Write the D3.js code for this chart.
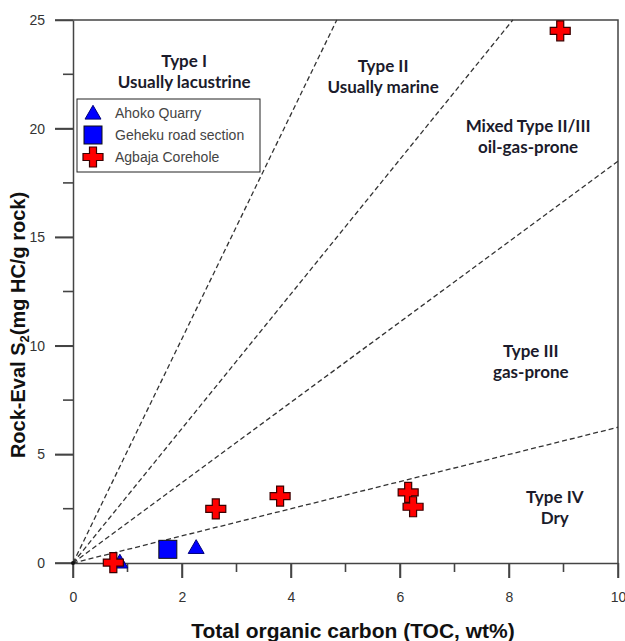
<!DOCTYPE html>
<html>
<head>
<meta charset="utf-8">
<script src="https://cdn.jsdelivr.net/npm/d3@7"></script>
<style>
  body { margin: 0; background: #fff; }
  .axis text { font-family: "Liberation Sans", Arial, sans-serif; font-size: 14px; fill: #333; }
  .zone { font-family: Lato, "Open Sans", sans-serif; font-weight: bold; font-size: 17px; fill: #1b1b2b; }
  .title { font-family: "Liberation Sans", Arial, sans-serif; font-weight: bold; fill: #111; }
  .legend text { font-family: "Liberation Sans", Arial, sans-serif; font-size: 14px; fill: #444; }
</style>
</head>
<body>
<svg width="625" height="641"></svg>
<script>
var svg = d3.select("svg"),
    margin = {top: 20, left: 73, bottom: 78, right: 7},
    width = +svg.attr("width") - margin.left - margin.right,
    height = +svg.attr("height") - margin.top - margin.bottom;

// samples: TOC (wt%), S2 (mg HC/g rock)
var ahoko = [[2.26, 0.72], [0.86, 0.05]];
var geheku = [[1.74, 0.63]];
var agbaja = [[0.74, 0.02], [2.62, 2.49], [3.80, 3.08], [6.15, 3.25], [6.24, 2.59], [8.94, 24.5]];

// kerogen type boundary lines from origin, end points (TOC, S2)
var boundaries = [[4.84, 25], [8.07, 25], [10, 18.5], [10, 6.25]];

var zones = [
  {lines: ["Type I", "Usually lacustrine"], at: [2.04, 22.84]},
  {lines: ["Type II", "Usually marine"], at: [5.69, 22.6]},
  {lines: ["Mixed Type II/III", "oil-gas-prone"], at: [8.35, 19.84]},
  {lines: ["Type III", "gas-prone"], at: [8.4, 9.48]},
  {lines: ["Type IV", "Dry"], at: [8.84, 2.76]}
];

var legendItems = ["Ahoko Quarry", "Geheku road section", "Agbaja Corehole"];

var xTicks = d3.range(0, 11, 1),
    yTicks = d3.range(0, 26, 2.5);

var x = d3.scaleLinear().domain([0, 10]).range([0, width]);
var y = d3.scaleLinear().domain([0, 25]).range([height, 0]);

var g = svg.append("g")
    .attr("transform", "translate(" + margin.left + "," + margin.top + ")");

// frame top & right
g.append("path")
    .attr("d", "M0,0H" + width + "V" + height)
    .attr("fill", "none")
    .attr("stroke", "#444")
    .attr("stroke-width", 1.5);

// axes (labels + domain), tick marks drawn separately below
g.append("g")
    .attr("class", "axis")
    .attr("transform", "translate(0," + height + ")")
    .call(d3.axisBottom(x).tickValues(xTicks.filter(function(d) { return d % 2 === 0; }))
      .tickSize(15).tickSizeOuter(0).tickPadding(14));

g.append("g")
    .attr("class", "axis")
    .call(d3.axisLeft(y).tickValues(yTicks.filter(function(d) { return d % 5 === 0; }))
      .tickSize(18).tickSizeOuter(0).tickPadding(10));

g.selectAll(".axis .domain, .axis .tick line")
    .attr("stroke", "#444")
    .attr("stroke-width", 1.5);

// minor + major tick marks
g.append("g").selectAll("line")
    .data(xTicks)
  .enter().append("line")
    .attr("x1", function(d) { return x(d); })
    .attr("x2", function(d) { return x(d); })
    .attr("y1", height)
    .attr("y2", function(d) { return height + (d % 2 === 0 ? 15 : 9); })
    .attr("stroke", "#444")
    .attr("stroke-width", 1.6);

g.append("g").selectAll("line")
    .data(yTicks)
  .enter().append("line")
    .attr("y1", function(d) { return y(d); })
    .attr("y2", function(d) { return y(d); })
    .attr("x1", 0)
    .attr("x2", function(d) { return d % 5 === 0 ? -18 : -10; })
    .attr("stroke", "#444")
    .attr("stroke-width", 1.6);

// boundary lines
g.append("g").selectAll("line")
    .data(boundaries)
  .enter().append("line")
    .attr("x1", x(0)).attr("y1", y(0))
    .attr("x2", function(d) { return x(d[0]); })
    .attr("y2", function(d) { return y(d[1]); })
    .attr("stroke", "#333")
    .attr("stroke-width", 1.3)
    .attr("stroke-dasharray", "5,3");

g.append("circle").attr("cx", x(0)).attr("cy", y(0)).attr("r", 2).attr("fill", "#111");

// zone labels
var zl = g.append("g").selectAll("text")
    .data(zones)
  .enter().append("text")
    .attr("class", "zone")
    .attr("text-anchor", "middle")
    .attr("transform", function(d) { return "translate(" + x(d.at[0]) + "," + y(d.at[1]) + ")"; });
zl.selectAll("tspan")
    .data(function(d) { return d.lines; })
  .enter().append("tspan")
    .attr("x", 0)
    .attr("dy", function(d, i) { return i ? 21 : 0; })
    .text(function(d) { return d; });

// markers
var tri = d3.symbol().type(d3.symbolTriangle).size(110),
    cross = "M-3.5,-10h7v6.5h6.5v7h-6.5v6.5h-7v-6.5h-6.5v-7h6.5z";

function drawTri(sel, px, py) {
  sel.append("path").attr("d", tri)
      .attr("transform", "translate(" + px + "," + (py + 1.5) + ")")
      .attr("fill", "#0000ff").attr("stroke", "#00007a").attr("stroke-width", 1);
}
function drawSquare(sel, px, py) {
  sel.append("rect").attr("x", px - 9).attr("y", py - 9).attr("width", 18).attr("height", 18)
      .attr("fill", "#0000ff").attr("stroke", "#111").attr("stroke-width", 1);
}
function drawCross(sel, px, py) {
  sel.append("path").attr("d", cross)
      .attr("transform", "translate(" + px + "," + py + ")")
      .attr("fill", "#ff0000").attr("stroke", "#3a0000").attr("stroke-width", 1.2);
}

var pts = g.append("g");
ahoko.forEach(function(d) { drawTri(pts, x(d[0]), y(d[1])); });
geheku.forEach(function(d) { drawSquare(pts, x(d[0]), y(d[1])); });
agbaja.forEach(function(d) { drawCross(pts, x(d[0]), y(d[1])); });

// legend
var lg = svg.append("g").attr("class", "legend").attr("transform", "translate(77,99)");
lg.append("rect").attr("width", 183).attr("height", 73)
    .attr("fill", "#fff").attr("stroke", "#222").attr("stroke-width", 1);
var drawers = [drawTri, drawSquare, drawCross];
legendItems.forEach(function(name, i) {
  var cy = 14 + i * 22;
  drawers[i](lg, 16, cy);
  lg.append("text").attr("x", 38).attr("y", cy + 5).text(name);
});

// axis titles
svg.append("text")
    .attr("class", "title")
    .attr("font-size", "21px")
    .attr("text-anchor", "middle")
    .attr("x", 353).attr("y", 638)
    .text("Total organic carbon (TOC, wt%)");

var yt = svg.append("text")
    .attr("class", "title")
    .attr("font-size", "20px")
    .attr("text-anchor", "middle")
    .attr("transform", "translate(25,325) rotate(-90)");
yt.append("tspan").text("Rock-Eval S");
yt.append("tspan").attr("font-size", "13px").attr("dy", 4).text("2");
yt.append("tspan").attr("dy", -4).text("(mg HC/g rock)");
</script>
</body>
</html>
